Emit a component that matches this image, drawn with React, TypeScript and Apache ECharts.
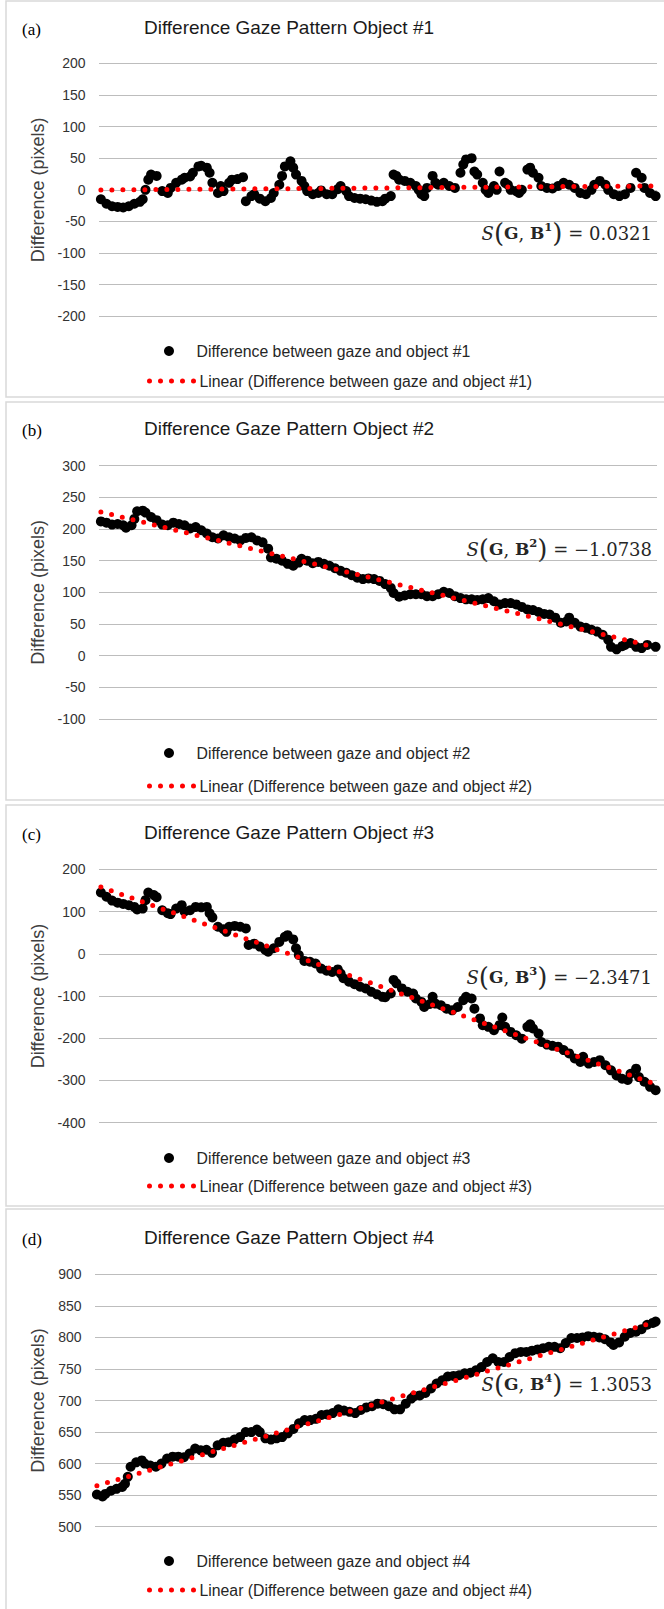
import React, { useEffect, useRef } from "react";
import * as echarts from "echarts";

// ---------- data (frame index, difference in pixels) ----------
const gazeA: [number, number][] = [
  [0, -15], [2, -22], [4, -26], [6, -27], [8, -28], [10, -26], [12, -22], [14, -19], [15, -15], [16, 0],
  [17, 16], [18, 24], [20, 22], [22, -2], [24, -5], [25, 3], [27, 11], [29, 16], [30, 19], [32, 21],
  [33, 27], [35, 37], [36, 38], [38, 35], [39, 27], [40, 11], [42, -5], [43, 6], [44, -2], [46, 11],
  [47, 16], [49, 17], [51, 20], [52, -18], [54, -10], [55, -7], [57, -14], [59, -18], [61, -13], [62, -5],
  [64, 8], [65, 22], [66, 37], [68, 45], [69, 35], [70, 24], [72, 14], [73, 6], [74, -2], [76, -7],
  [78, -5], [79, -1], [81, -7], [83, -7], [85, 1], [86, 6], [88, -2], [89, -10], [91, -13], [93, -14],
  [95, -15], [97, -17], [99, -19], [101, -18], [102, -14], [104, -10], [105, 24], [106, 22], [107, 16], [109, 14],
  [111, 11], [113, 6], [114, 0], [115, -7], [116, -10], [117, 3], [119, 22], [120, 11], [121, 8], [123, 11],
  [125, 6], [127, 3], [129, 27], [130, 40], [131, 48], [133, 50], [134, 29], [135, 24], [137, 11], [138, 0],
  [139, -5], [141, 6], [142, 0], [143, 29], [145, 11], [146, 8], [147, 0], [149, -2], [150, -5], [151, 0],
  [153, 32], [154, 35], [155, 27], [157, 19], [158, 6], [160, 3], [162, 2], [164, 6], [166, 11], [168, 8],
  [170, 3], [172, -5], [174, -7], [176, 0], [177, 8], [179, 14], [181, 8], [182, 0], [184, -7], [186, -10],
  [188, -7], [190, 3], [192, 27], [194, 19], [195, 3], [197, -5], [199, -10],
];

const gazeB: [number, number][] = [
  [0, 212], [2, 210], [4, 207], [6, 208], [8, 206], [9, 202], [11, 206], [12, 216], [13, 228], [15, 229],
  [16, 226], [18, 219], [20, 214], [22, 207], [24, 206], [26, 210], [28, 208], [30, 206], [32, 201], [34, 203],
  [36, 198], [38, 193], [40, 187], [42, 185], [44, 190], [46, 187], [48, 185], [50, 182], [52, 186], [54, 187],
  [56, 182], [58, 179], [60, 169], [61, 155], [63, 153], [65, 150], [67, 145], [69, 142], [71, 147], [72, 153],
  [74, 150], [76, 146], [78, 148], [80, 145], [82, 142], [84, 138], [86, 134], [88, 131], [90, 127], [92, 123],
  [94, 121], [96, 122], [98, 121], [100, 118], [102, 113], [104, 107], [105, 99], [107, 93], [109, 95], [111, 97],
  [113, 97], [115, 97], [117, 94], [119, 94], [121, 97], [123, 101], [125, 99], [127, 94], [129, 91], [131, 89],
  [133, 89], [135, 88], [137, 89], [139, 91], [141, 86], [143, 81], [145, 83], [147, 83], [149, 81], [151, 77],
  [153, 73], [155, 72], [157, 69], [159, 66], [161, 65], [163, 60], [165, 52], [167, 54], [168, 60], [170, 52],
  [172, 46], [174, 44], [176, 41], [178, 38], [180, 33], [182, 25], [183, 14], [185, 10], [187, 15], [188, 17],
  [190, 20], [192, 14], [194, 12], [196, 17], [199, 14],
];

const gazeC: [number, number][] = [
  [0, 145], [2, 135], [4, 126], [6, 121], [8, 118], [10, 115], [12, 111], [13, 105], [15, 107], [16, 127],
  [17, 145], [19, 139], [20, 134], [22, 103], [24, 96], [25, 94], [27, 107], [29, 115], [30, 100], [32, 103],
  [34, 111], [36, 110], [38, 111], [39, 96], [40, 86], [42, 64], [44, 58], [45, 52], [46, 64], [48, 66],
  [50, 64], [52, 60], [53, 21], [55, 24], [57, 17], [59, 9], [60, 5], [62, 13], [64, 28], [66, 40],
  [67, 44], [69, 34], [70, 13], [71, -3], [73, -17], [75, -19], [77, -23], [79, -35], [81, -40], [83, -43],
  [85, -37], [86, -47], [87, -58], [89, -66], [91, -72], [93, -78], [95, -82], [97, -90], [99, -96], [101, -102],
  [102, -103], [104, -94], [105, -62], [106, -70], [108, -82], [110, -90], [112, -94], [113, -106], [115, -114], [116, -126],
  [118, -119], [119, -102], [120, -118], [122, -122], [124, -130], [126, -134], [128, -126], [130, -110], [131, -102], [133, -106],
  [134, -130], [136, -153], [137, -169], [139, -173], [141, -181], [143, -169], [144, -151], [145, -173], [147, -185], [149, -193],
  [151, -201], [153, -173], [154, -167], [155, -177], [157, -189], [158, -209], [160, -215], [162, -218], [164, -220], [166, -228],
  [168, -236], [170, -248], [172, -256], [173, -244], [175, -260], [177, -256], [179, -252], [181, -264], [183, -276], [185, -288],
  [187, -296], [189, -299], [190, -284], [192, -272], [193, -292], [195, -303], [197, -315], [199, -323],
];

const gazeD: [number, number][] = [
  [0, 551], [2, 548], [3, 552], [5, 557], [7, 560], [9, 563], [10, 568], [11, 579], [12, 595], [14, 602],
  [16, 605], [17, 600], [19, 597], [21, 595], [23, 600], [25, 608], [27, 611], [29, 611], [31, 610], [33, 616],
  [35, 624], [37, 621], [39, 622], [41, 617], [43, 629], [45, 633], [47, 634], [49, 638], [51, 642], [53, 650],
  [55, 650], [57, 654], [58, 650], [60, 640], [62, 638], [64, 640], [66, 642], [68, 648], [70, 655], [72, 664],
  [74, 669], [76, 669], [78, 671], [80, 677], [82, 678], [84, 680], [86, 686], [88, 684], [90, 682], [92, 680],
  [94, 685], [96, 689], [98, 691], [100, 695], [102, 694], [104, 691], [106, 686], [108, 686], [110, 695], [112, 703],
  [113, 707], [115, 708], [117, 712], [119, 719], [121, 727], [123, 732], [125, 738], [127, 739], [129, 740], [131, 743],
  [133, 744], [135, 748], [137, 753], [139, 761], [141, 767], [143, 761], [145, 761], [147, 769], [149, 775], [151, 777],
  [153, 777], [155, 779], [157, 781], [159, 783], [161, 785], [163, 785], [165, 783], [167, 791], [169, 799], [171, 799],
  [173, 800], [175, 802], [177, 801], [179, 800], [181, 797], [183, 792], [184, 788], [186, 792], [188, 801], [190, 807],
  [192, 809], [194, 813], [196, 820], [198, 823], [199, 825],
];

// linear trend lines (end points)
const trendA: [number, number][] = [[0, -0.3], [199, 6.1]];
const trendB: [number, number][] = [[0, 227], [199, 13.3]];
const trendC: [number, number][] = [[0, 158], [199, -309]];
const trendD: [number, number][] = [[0, 565], [199, 824.8]];

const gazeSets = [gazeA, gazeB, gazeC, gazeD];
const trendSets = [trendA, trendB, trendC, trendD];

const titles = [
  "Difference Gaze Pattern Object #1",
  "Difference Gaze Pattern Object #2",
  "Difference Gaze Pattern Object #3",
  "Difference Gaze Pattern Object #4",
];
const panelLetters = ["(a)", "(b)", "(c)", "(d)"];
const scoreValues = ["0.0321", "\u22121.0738", "\u22122.3471", "1.3053"];
const scoreIndex = ["1", "2", "3", "4"];
const yMins = [-200, -100, -400, 500];
const yMaxs = [200, 300, 200, 900];
const yIntervals = [50, 50, 100, 50];
const objectNames = ["object #1", "object #2", "object #3", "object #4"];

// ---------- layout (pixels) ----------
const W = 664;
const H = 1609;
const panels = [
  { boxY: 1, boxH: 396, top: 63.3, bottom: 316.3, left: 99.5, titleY: 29, leg1: 351, leg2: 381, annY: 233 },
  { boxY: 402, boxH: 398, top: 465.7, bottom: 719, left: 99.5, titleY: 430, leg1: 753, leg2: 786, annY: 549 },
  { boxY: 805, boxH: 401, top: 869.3, bottom: 1122.7, left: 99.5, titleY: 834, leg1: 1158, leg2: 1186, annY: 977 },
  { boxY: 1209, boxH: 410, top: 1274.3, bottom: 1526.7, left: 95.5, titleY: 1239, leg1: 1561, leg2: 1590, annY: 1384 },
];
const plotRight = 657;

const SANS = "'Liberation Sans', Arial, sans-serif";
const SERIF = "'Liberation Serif', 'Times New Roman', serif";
const MATH = "'DejaVu Serif', serif";

export default function App() {
  const ref = useRef<HTMLDivElement>(null);

  useEffect(() => {
    document.body.style.margin = "0";
    if (!ref.current) return;
    const chart = echarts.init(ref.current, undefined, { renderer: "svg" });

    const grid: any[] = [];
    const xAxis: any[] = [];
    const yAxis: any[] = [];
    const series: any[] = [];
    const title: any[] = [];
    const legend: any[] = [];
    const graphic: any[] = [];

    panels.forEach((p, i) => {
      grid.push({
        left: p.left,
        right: W - plotRight,
        top: p.top,
        height: p.bottom - p.top,
        containLabel: false,
      });
      xAxis.push({
        type: "value",
        gridIndex: i,
        min: -0.5,
        max: 199.5,
        show: false,
        splitLine: { show: false },
      });
      yAxis.push({
        type: "value",
        gridIndex: i,
        min: yMins[i],
        max: yMaxs[i],
        interval: yIntervals[i],
        axisLine: { show: false },
        axisTick: { show: false },
        axisLabel: {
          color: "#333333",
          fontSize: 14,
          fontFamily: SANS,
          margin: 14,
        },
        splitLine: { show: true, lineStyle: { color: "#7a7a7a", width: 1, type: [1, 1] } },
        name: "Difference (pixels)",
        nameLocation: "middle",
        nameGap: p.left - 47,
        nameTextStyle: { color: "#404040", fontSize: 18, fontFamily: SANS },
      });
      const dotName = "Difference between gaze and " + objectNames[i];
      const lineName = "Linear (Difference between gaze and " + objectNames[i] + ")";
      series.push({
        type: "scatter",
        name: dotName,
        xAxisIndex: i,
        yAxisIndex: i,
        data: gazeSets[i],
        symbol: "circle",
        symbolSize: 10,
        itemStyle: { color: "#000000", opacity: 1 },
        z: 2,
      });
      series.push({
        type: "line",
        name: lineName,
        xAxisIndex: i,
        yAxisIndex: i,
        data: trendSets[i],
        symbol: "none",
        showSymbol: false,
        lineStyle: { color: "#ff0000", width: 5, type: [0, 11], cap: "round" },
        itemStyle: { color: "#ff0000" },
        z: 3,
      });
      title.push({
        text: titles[i],
        left: 289,
        top: p.titleY - 11,
        textAlign: "center",
        padding: 0,
        textStyle: { fontSize: 19, fontWeight: "normal", fontFamily: SANS, color: "#1a1a1a" },
      });
      legend.push({
        data: [dotName],
        left: 164,
        top: p.leg1 - 8,
        padding: 0,
        itemWidth: 45,
        itemHeight: 10,
        selectedMode: false,
        itemStyle: { opacity: 1 },
        textStyle: { fontSize: 15.8, fontFamily: SANS, color: "#262626" },
      });
      legend.push({
        data: [lineName],
        left: 147,
        top: p.leg2 - 8,
        padding: 0,
        itemWidth: 45,
        itemHeight: 10,
        selectedMode: false,
        itemStyle: { color: "rgba(0,0,0,0)", opacity: 0, borderWidth: 0 },
        lineStyle: { width: 5, type: [0, 11], cap: "round", color: "#ff0000" },
        textStyle: { fontSize: 15.8, fontFamily: SANS, color: "#262626" },
      });
      graphic.push({
        type: "rect",
        shape: { x: 6, y: p.boxY, width: W + 20, height: p.boxH },
        style: { fill: "none", stroke: "#d9d9d9", lineWidth: 1.5 },
        silent: true,
        z: -10,
      });
      graphic.push({
        type: "text",
        x: 22,
        y: p.titleY,
        style: {
          text: panelLetters[i],
          font: "17px " + SERIF,
          fill: "#000000",
          textAlign: "left",
          textVerticalAlign: "middle",
        },
      });
      graphic.push({
        type: "text",
        x: 652,
        y: p.annY,
        style: {
          text:
            "{i|S}{p|(}{b|G}{n|, }{b|B}{s|" + scoreIndex[i] + "}{p|)}{n| = " + scoreValues[i] + "}",
          textAlign: "right",
          textVerticalAlign: "middle",
          fill: "#262626",
          rich: {
            i: { fontFamily: MATH, fontStyle: "italic", fontSize: 18, lineHeight: 26, verticalAlign: "middle", fill: "#262626" },
            p: { fontFamily: MATH, fontSize: 26, lineHeight: 26, verticalAlign: "middle", fill: "#262626" },
            b: { fontFamily: MATH, fontWeight: "bold", fontSize: 17, lineHeight: 26, verticalAlign: "middle", fill: "#262626" },
            s: { fontFamily: MATH, fontWeight: "bold", fontSize: 11.5, lineHeight: 26, verticalAlign: "top", fill: "#262626", padding: [1, 0, 0, 0] },
            n: { fontFamily: MATH, fontSize: 18, lineHeight: 26, verticalAlign: "middle", fill: "#262626" },
          },
        },
      });
    });

    chart.setOption({
      animation: false,
      backgroundColor: "#ffffff",
      title,
      legend,
      grid,
      xAxis,
      yAxis,
      series,
      graphic,
    });

    return () => {
      chart.dispose();
    };
  }, []);

  return <div ref={ref} style={{ width: W, height: H }} />;
}
